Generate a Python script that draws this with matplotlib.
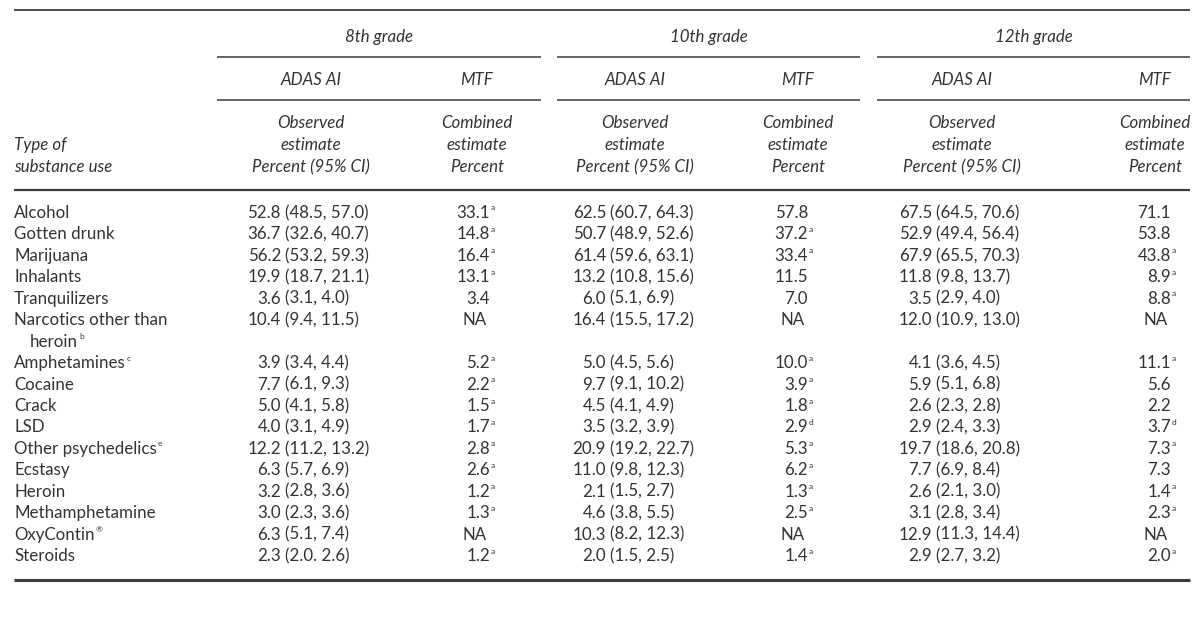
import matplotlib.pyplot as plt

# ---- table data ----
substances = ["Alcohol", "Gotten drunk", "Marijuana", "Inhalants", "Tranquilizers",
              "Narcotics other than|heroin", "Amphetamines", "Cocaine", "Crack", "LSD",
              "Other psychedelics", "Ecstasy", "Heroin", "Methamphetamine", "OxyContin",
              "Steroids"]
substance_notes = ["", "", "", "", "", "b", "c", "", "", "", "e", "", "", "", "\u00ae", ""]

grades = ["8th grade", "10th grade", "12th grade"]

adas_8 = ["52.8 (48.5, 57.0)", "36.7 (32.6, 40.7)", "56.2 (53.2, 59.3)", "19.9 (18.7, 21.1)",
          "3.6 (3.1, 4.0)", "10.4 (9.4, 11.5)", "3.9 (3.4, 4.4)", "7.7 (6.1, 9.3)",
          "5.0 (4.1, 5.8)", "4.0 (3.1, 4.9)", "12.2 (11.2, 13.2)", "6.3 (5.7, 6.9)",
          "3.2 (2.8, 3.6)", "3.0 (2.3, 3.6)", "6.3 (5.1, 7.4)", "2.3 (2.0. 2.6)"]
adas_10 = ["62.5 (60.7, 64.3)", "50.7 (48.9, 52.6)", "61.4 (59.6, 63.1)", "13.2 (10.8, 15.6)",
           "6.0 (5.1, 6.9)", "16.4 (15.5, 17.2)", "5.0 (4.5, 5.6)", "9.7 (9.1, 10.2)",
           "4.5 (4.1, 4.9)", "3.5 (3.2, 3.9)", "20.9 (19.2, 22.7)", "11.0 (9.8, 12.3)",
           "2.1 (1.5, 2.7)", "4.6 (3.8, 5.5)", "10.3 (8.2, 12.3)", "2.0 (1.5, 2.5)"]
adas_12 = ["67.5 (64.5, 70.6)", "52.9 (49.4, 56.4)", "67.9 (65.5, 70.3)", "11.8 (9.8, 13.7)",
           "3.5 (2.9, 4.0)", "12.0 (10.9, 13.0)", "4.1 (3.6, 4.5)", "5.9 (5.1, 6.8)",
           "2.6 (2.3, 2.8)", "2.9 (2.4, 3.3)", "19.7 (18.6, 20.8)", "7.7 (6.9, 8.4)",
           "2.6 (2.1, 3.0)", "3.1 (2.8, 3.4)", "12.9 (11.3, 14.4)", "2.9 (2.7, 3.2)"]

mtf_8 = [33.1, 14.8, 16.4, 13.1, 3.4, None, 5.2, 2.2, 1.5, 1.7, 2.8, 2.6, 1.2, 1.3, None, 1.2]
mtf_8_notes = ["a", "a", "a", "a", "", "", "a", "a", "a", "a", "a", "a", "a", "a", "", "a"]
mtf_10 = [57.8, 37.2, 33.4, 11.5, 7.0, None, 10.0, 3.9, 1.8, 2.9, 5.3, 6.2, 1.3, 2.5, None, 1.4]
mtf_10_notes = ["", "a", "a", "", "", "", "a", "a", "a", "d", "a", "a", "a", "a", "", "a"]
mtf_12 = [71.1, 53.8, 43.8, 8.9, 8.8, None, 11.1, 5.6, 2.2, 3.7, 7.3, 7.3, 1.4, 2.3, None, 2.0]
mtf_12_notes = ["", "", "a", "a", "a", "", "a", "", "", "d", "a", "", "a", "a", "", "a"]

adas_cols = [adas_8, adas_10, adas_12]
mtf_cols = [mtf_8, mtf_10, mtf_12]
mtf_note_cols = [mtf_8_notes, mtf_10_notes, mtf_12_notes]

# ---- layout (pixel coords) ----
W, H = 1200, 638
FONT = "Lato"
FS = 12.2
SUP = 6
TXT = "#333333"
RULE = "#3a3a3a"

left, right = 14, 1190
grade_spans = [(217, 541), (557, 860), (877, 1190)]
adas_center = [311, 635, 962]
mtf_center = [477, 798, 1155]
adas_split = [281, 606, 932]     # right edge of point estimate
mtf_end = [490, 808, 1171]

fig = plt.figure(figsize=(W / 100, H / 100), dpi=100)
ax = fig.add_axes([0, 0, 1, 1])
ax.set_xlim(0, W)
ax.set_ylim(H, 0)
ax.axis("off")
renderer = fig.canvas.get_renderer()


def txt(x, y, s, ha="left", size=FS, style="normal", **kw):
    return ax.text(x, y, s, ha=ha, va="center", fontsize=size, fontstyle=style,
                   family=FONT, color=TXT, **kw)


def sup(x, y, s):
    if s:
        ax.text(x + 1, y - 5, s, ha="left", va="center", fontsize=SUP, family=FONT, color=TXT)


def hline(y, x0, x1, lw=1.2):
    ax.plot([x0, x1], [y, y], color=RULE, lw=lw, solid_capstyle="butt")


# rules
hline(10, left, right, 1.3)
for x0, x1 in grade_spans:
    hline(57, x0, x1, 1.1)
    hline(100, x0, x1, 1.1)
hline(190, left, right, 1.6)
hline(580, left, right, 2.2)

# header
for g, (x0, x1) in zip(grades, grade_spans):
    txt((x0 + x1) / 2, 37, g, ha="center", style="italic")
for i in range(3):
    txt(adas_center[i], 80, "ADAS AI", ha="center", style="italic")
    txt(mtf_center[i], 80, "MTF", ha="center", style="italic")
    for y, a, m in zip([123, 145, 167],
                       ["Observed", "estimate", "Percent (95% CI)"],
                       ["Combined", "estimate", "Percent"]):
        txt(adas_center[i], y, a, ha="center", style="italic")
        txt(mtf_center[i], y, m, ha="center", style="italic")
txt(left, 145, "Type of", style="italic")
txt(left, 167, "substance use", style="italic")

# body
y0, step = 213, 21.45
line = 0
for r, name in enumerate(substances):
    y = y0 + line * step
    parts = name.split("|")
    for k, p in enumerate(parts):
        t = txt(left + (16 if k else 0), y + k * step, p)
        if k == len(parts) - 1 and substance_notes[r]:
            bb = t.get_window_extent(renderer=renderer)
            xe = ax.transData.inverted().transform((bb.x1, 0))[0]
            sup(xe, y + k * step, substance_notes[r])
    for c in range(3):
        est, ci = adas_cols[c][r].split(" ", 1)
        txt(adas_split[c], y, est, ha="right")
        txt(adas_split[c] + 4, y, ci, ha="left")
        v = mtf_cols[c][r]
        if v is None:
            txt(mtf_end[c] - 15, y, "NA", ha="center")
        else:
            txt(mtf_end[c], y, f"{v:.1f}", ha="right")
            sup(mtf_end[c], y, mtf_note_cols[c][r])
    line += len(parts)

fig.savefig("out.png", dpi=100, facecolor="white")
